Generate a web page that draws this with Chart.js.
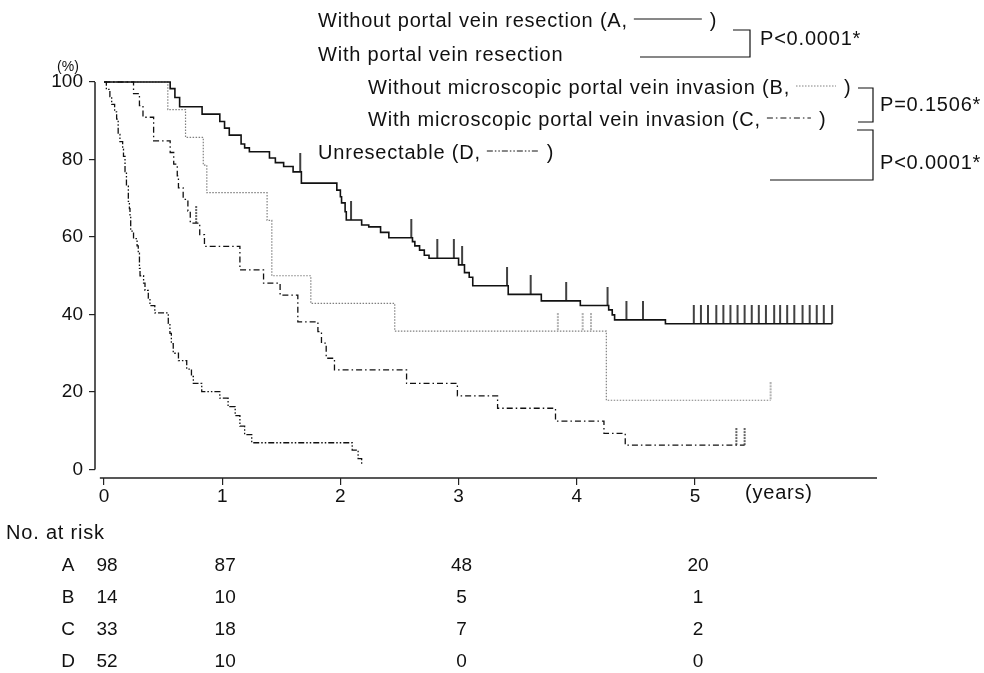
<!DOCTYPE html>
<html>
<head>
<meta charset="utf-8">
<script src="https://cdn.jsdelivr.net/npm/chart.js@4.4.1/dist/chart.umd.min.js"></script>
<style>
  body { margin: 0; background: #fff; }
  canvas { display: block; }
</style>
</head>
<body>
<canvas id="km" width="984" height="673"></canvas>
<script>
// A: without portal vein resection (time in years, survival in %)
const aTime = [0, 0.56, 0.60, 0.64, 0.83, 0.98, 1.02, 1.06, 1.16, 1.19, 1.23, 1.40, 1.45, 1.52, 1.60, 1.67, 1.97, 2.00, 2.01, 2.04, 2.05, 2.18, 2.24, 2.34, 2.41, 2.61, 2.63, 2.67, 2.71, 2.75, 3.00, 3.05, 3.09, 3.12, 3.42, 3.70, 4.03, 4.27, 4.30, 4.32, 4.75, 6.16];
const aSurv = [100, 98.3, 96.0, 93.6, 91.7, 89.8, 88.1, 86.3, 84.0, 83.0, 82.0, 80.4, 79.2, 78.2, 76.8, 73.9, 72.1, 70.4, 68.8, 66.5, 64.4, 63.1, 62.6, 61.2, 59.8, 58.8, 57.7, 56.6, 55.3, 54.5, 52.8, 50.8, 49.6, 47.4, 45.2, 43.5, 42.3, 41.2, 39.9, 38.6, 37.6, 37.6];
const aCens = [1.66, 2.09, 2.60, 2.82, 2.96, 3.03, 3.41, 3.61, 3.91, 4.26, 4.42, 4.56,
  4.99, 5.05, 5.11, 5.18, 5.24, 5.30, 5.36, 5.42, 5.48, 5.54, 5.60, 5.67, 5.72, 5.78, 5.84, 5.91, 5.97, 6.03, 6.09, 6.16];

// B: with resection, without microscopic invasion
const bTime = [0, 0.54, 0.69, 0.84, 0.87, 1.38, 1.42, 1.75, 2.46, 4.25, 5.64];
const bSurv = [100, 92.86, 85.71, 78.57, 71.43, 64.29, 50.0, 42.86, 35.71, 17.86, 17.86];
const bCens = [3.84, 4.05, 4.12, 5.64];

// C: with resection, with microscopic invasion
const cTime = [0, 0.25, 0.30, 0.33, 0.42, 0.56, 0.59, 0.62, 0.63, 0.67, 0.71, 0.73, 0.81, 0.85, 1.15, 1.35, 1.49, 1.64, 1.81, 1.84, 1.88, 1.95, 2.56, 2.99, 3.33, 3.82, 4.23, 4.41, 5.42];
const cSurv = [100, 97.0, 93.9, 90.9, 84.8, 81.8, 78.8, 75.8, 72.7, 69.7, 66.7, 63.6, 60.6, 57.6, 51.5, 48.1, 45.0, 38.1, 35.6, 32.6, 28.7, 25.7, 22.2, 19.0, 15.8, 12.5, 9.3, 6.3, 6.3];
const cCens = [0.78, 5.35, 5.42];

// D: unresectable
const dTime = [0, 0.02, 0.05, 0.065, 0.09, 0.107, 0.12, 0.135, 0.158, 0.165, 0.178, 0.19, 0.206, 0.215, 0.22, 0.226, 0.25, 0.28, 0.29, 0.30, 0.305, 0.335, 0.347, 0.375, 0.389, 0.43, 0.544, 0.558, 0.57, 0.586, 0.63, 0.70, 0.74, 0.756, 0.827, 0.98, 1.05, 1.11, 1.15, 1.19, 1.25, 2.10, 2.15, 2.18];
const dSurv = [100, 98.1, 96.2, 94.2, 92.3, 90.4, 86.5, 84.6, 82.7, 80.8, 76.9, 73.1, 69.2, 67.3, 65.4, 61.5, 59.6, 57.7, 55.8, 51.9, 50.0, 48.1, 46.2, 44.2, 42.3, 40.4, 37.7, 35.1, 32.5, 30.0, 28.1, 25.9, 24.0, 22.2, 20.1, 18.4, 16.2, 13.9, 11.2, 9.0, 6.9, 5.0, 2.8, 1.2];

const xTicks = [0, 1, 2, 3, 4, 5];
const yTicks = [0, 20, 40, 60, 80, 100];

// number at risk table
const riskTimes = [0, 1, 3, 5];
const riskGroups = ["A", "B", "C", "D"];
const riskA = [98, 87, 48, 20];
const riskB = [14, 10, 5, 1];
const riskC = [33, 18, 7, 2];
const riskD = [52, 10, 0, 0];

const FONT = '"Liberation Sans", Arial, sans-serif';

function pts(t, s) {
    return t.map((v, i) => ({ x: v, y: s[i] }));
}

function survAt(t, s, x) {
    let j = 0;
    while (j + 1 < t.length && t[j + 1] <= x) ++j;
    return s[j];
}

function censPts(cens, t, s) {
    return cens.map(c => ({ x: c, y: survAt(t, s, c) }));
}

// small canvas used as point style: vertical tick sitting on the point, going up
function tickImg(color, dash, w, h) {
    const cv = document.createElement("canvas");
    cv.width = 4;
    cv.height = h * 2;
    const c = cv.getContext("2d");
    c.strokeStyle = color;
    c.lineWidth = w;
    c.setLineDash(dash);
    c.beginPath();
    c.moveTo(2, 0);
    c.lineTo(2, h);
    c.stroke();
    return cv;
}

const styles = {
    A: { color: "#111", dash: [], width: 1.6 },
    B: { color: "#808080", dash: [1.5, 1.5], width: 1.2 },
    C: { color: "#111", dash: [6, 3, 1.5, 3], width: 1.3 },
    D: { color: "#111", dash: [6, 2, 1.5, 2, 1.5, 2], width: 1.3 }
};

function curve(t, s, st) {
    return {
        type: "line",
        data: pts(t, s),
        borderColor: st.color,
        borderWidth: st.width,
        borderDash: st.dash,
        stepped: true,
        pointRadius: 0,
        fill: false,
        clip: false
    };
}

function censors(cens, t, s, st, h) {
    return {
        type: "scatter",
        data: censPts(cens, t, s),
        pointStyle: tickImg(st.color, st.dash.length ? [2, 1] : [], st.width, h),
        pointRadius: 10,
        showLine: false,
        clip: false
    };
}

const overlay = {
    id: "overlay",
    beforeDatasetsDraw(chart) {
        // axis lines: y stops at 0, x starts just right of the y axis
        const ctx = chart.ctx;
        const xs = chart.scales.x, ys = chart.scales.y;
        const a = chart.chartArea;
        ctx.save();
        ctx.strokeStyle = "#222";
        ctx.lineWidth = 1.5;
        ctx.beginPath();
        ctx.moveTo(a.left, ys.getPixelForValue(100));
        ctx.lineTo(a.left, ys.getPixelForValue(0));
        ctx.moveTo(xs.getPixelForValue(-0.035), a.bottom);
        ctx.lineTo(a.right, a.bottom);
        ctx.stroke();
        ctx.restore();
    },
    afterDraw(chart) {
        const ctx = chart.ctx;
        const xs = chart.scales.x;
        ctx.save();
        ctx.fillStyle = "#111";
        ctx.strokeStyle = "#111";
        ctx.textBaseline = "middle";

        ctx.font = "14px " + FONT;
        ctx.textAlign = "center";
        ctx.fillText("(%)", 68, 67);

        ctx.font = "20px " + FONT;
        ctx.letterSpacing = "0.8px";
        ctx.textAlign = "left";
        ctx.fillText("(years)", 745, 493);

        // number at risk
        ctx.fillText("No. at risk", 6, 533);
        ctx.letterSpacing = "0px";
        ctx.font = "19px " + FONT;
        const rows = [riskA, riskB, riskC, riskD];
        rows.forEach((row, i) => {
            const y = 566 + i * 32;
            ctx.textAlign = "center";
            ctx.fillText(riskGroups[i], 68, y);
            row.forEach((n, j) => {
                ctx.fillText(String(n), xs.getPixelForValue(riskTimes[j]) + 3, y);
            });
        });

        // legend
        ctx.font = "20px " + FONT;
        ctx.letterSpacing = "0.8px";
        ctx.textAlign = "left";
        function item(text, x, y, st, len) {
            ctx.fillText(text, x, y);
            const w = ctx.measureText(text).width;
            const x0 = x + w + 6;
            ctx.save();
            ctx.strokeStyle = st.color;
            ctx.lineWidth = 1;
            ctx.setLineDash(st.dash);
            ctx.beginPath();
            ctx.moveTo(x0, y - 2);
            ctx.lineTo(x0 + len, y - 2);
            ctx.stroke();
            ctx.restore();
            ctx.fillText(")", x0 + len + 8, y);
        }
        item("Without portal vein resection (A,", 318, 21, styles.A, 68);
        ctx.fillText("With portal vein resection", 318, 55);
        item("Without microscopic portal vein invasion (B,", 368, 88, styles.B, 40);
        item("With microscopic portal vein invasion (C,", 368, 120, styles.C, 44);
        item("Unresectable (D,", 318, 153, styles.D, 52);

        // p-value brackets
        ctx.lineWidth = 1.2;
        ctx.beginPath();
        ctx.moveTo(733, 30); ctx.lineTo(750, 30); ctx.lineTo(750, 57); ctx.lineTo(640, 57);
        ctx.moveTo(858, 88); ctx.lineTo(873, 88); ctx.lineTo(873, 122); ctx.lineTo(858, 122);
        ctx.moveTo(857, 130); ctx.lineTo(873, 130); ctx.lineTo(873, 180); ctx.lineTo(770, 180);
        ctx.stroke();
        ctx.fillText("P<0.0001*", 760, 39);
        ctx.fillText("P=0.1506*", 880, 105);
        ctx.fillText("P<0.0001*", 880, 163);
        ctx.restore();
    }
};

new Chart(document.getElementById("km"), {
    data: {
        datasets: [
            curve(aTime, aSurv, styles.A),
            curve(bTime, bSurv, styles.B),
            curve(cTime, cSurv, styles.C),
            curve(dTime, dSurv, styles.D),
            censors(aCens, aTime, aSurv, styles.A, 19),
            censors(bCens, bTime, bSurv, styles.B, 18),
            censors(cCens, cTime, cSurv, styles.C, 17)
        ]
    },
    options: {
        responsive: false,
        devicePixelRatio: 1,
        animation: false,
        layout: { padding: { left: 0, top: 82, right: 107, bottom: 165 } },
        plugins: { legend: { display: false }, tooltip: { enabled: false } },
        scales: {
            x: {
                type: "linear",
                min: -0.076,
                max: 6.54,
                afterBuildTicks: s => { s.ticks = xTicks.map(v => ({ value: v })); },
                afterFit: s => { s.height = 30; },
                grid: { display: true, drawOnChartArea: false, tickLength: 7, color: "#222", lineWidth: 1.2 },
                border: { display: false },
                ticks: { color: "#111", font: { family: FONT, size: 19 }, padding: 0, maxRotation: 0 }
            },
            y: {
                type: "linear",
                min: -2.2,
                max: 100,
                afterBuildTicks: s => { s.ticks = yTicks.map(v => ({ value: v })); },
                afterFit: s => { s.width = 95; },
                grid: { display: true, drawOnChartArea: false, tickLength: 6, color: "#222", lineWidth: 1.2 },
                border: { display: false },
                ticks: { color: "#111", font: { family: FONT, size: 19 }, padding: 6 }
            }
        }
    },
    plugins: [overlay]
});
</script>
</body>
</html>
